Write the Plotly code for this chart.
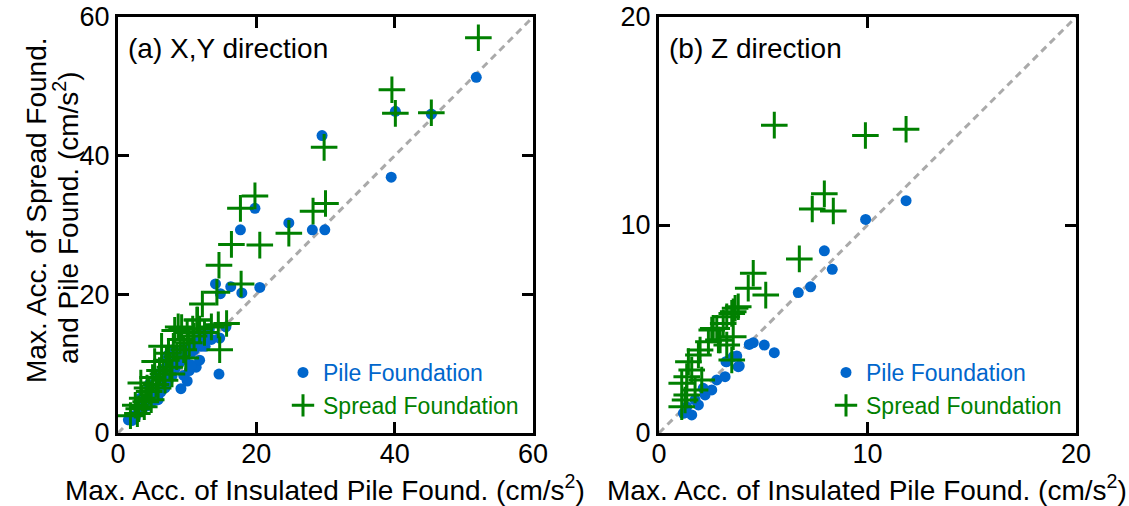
import plotly.graph_objects as go

# ---------------- data: panel (a) X,Y direction ----------------
pile_a_x = [51.8, 40.1, 45.3, 29.5, 39.5, 24.7, 28.1, 29.9, 19.8, 17.7, 14.1, 14.8, 16.3, 17.9,
            20.5, 15.6, 14.6, 14.7, 2.0, 2.3, 3.0, 3.5, 4.0, 4.2, 4.8, 5.0, 5.3, 5.6, 6.0, 6.2,
            6.5, 6.8, 7.0, 7.2, 7.5, 7.8, 8.0, 8.2, 8.5, 8.8, 9.0, 9.2, 9.5, 9.8, 10.0, 10.2,
            10.5, 10.8, 11.0, 11.3, 11.5, 12.0, 12.3, 12.5, 13.0, 13.2, 13.5, 4.5, 5.5, 6.5,
            7.0, 8.0, 3.2, 2.5, 5.8, 9.5, 10.3, 9.1, 10.6, 11.8, 12.6, 7.3, 1.5]
pile_a_y = [51.3, 46.4, 46.0, 42.9, 36.9, 30.3, 29.3, 29.3, 32.4, 29.3, 21.5, 20.1, 21.1, 20.2,
            21.0, 15.3, 8.5, 13.7, 1.8, 2.5, 3.0, 3.8, 4.5, 3.9, 5.2, 4.6, 6.0, 5.4, 6.8, 5.9,
            7.5, 6.5, 8.0, 7.3, 9.0, 8.2, 10.0, 9.2, 11.0, 10.0, 11.5, 10.5, 12.2, 11.0, 7.5, 12.5,
            11.5, 13.0, 12.0, 9.5, 13.5, 12.5, 14.5, 13.2, 14.0, 15.0, 13.5, 7.0, 8.5, 9.2,
            10.5, 12.0, 5.0, 2.2, 4.8, 8.3, 9.0, 6.4, 9.8, 10.5, 12.5, 11.3, 1.9]

spread_a_x = [52.1, 39.6, 40.1, 45.3, 29.8, 30.0, 28.2, 24.7, 19.8, 17.7, 16.4, 20.5, 14.6, 14.3,
              17.8, 12.2, 11.5, 15.7, 14.5, 8.7, 14.7, 13.5, 1.8, 2.5, 3.0, 3.3, 3.5, 4.0, 4.2,
              4.5, 5.0, 5.3, 5.5, 6.0, 6.3, 6.5, 7.0, 7.3, 7.5, 8.0, 8.2, 8.5, 9.0, 9.2, 9.5,
              10.0, 10.3, 10.8, 11.0, 11.4, 11.8, 12.5, 5.8, 7.8, 4.8, 2.8, 6.8, 9.8, 3.8]
spread_a_y = [57.0, 49.5, 46.1, 46.2, 41.2, 33.1, 32.0, 28.8, 34.2, 32.4, 27.2, 27.1, 24.2, 20.3,
              21.5, 18.6, 16.3, 15.8, 15.6, 15.3, 12.0, 15.3, 2.5, 4.0, 3.5, 7.2, 5.0, 4.5, 6.5,
              6.0, 8.0, 10.3, 7.0, 9.0, 12.5, 8.5, 10.5, 11.5, 9.5, 12.5, 14.8, 11.0, 13.5, 15.2, 12.0,
              14.5, 13.0, 15.0, 14.0, 16.3, 15.0, 14.5, 6.5, 8.5, 4.8, 2.8, 7.6, 10.8, 3.8]

# ---------------- data: panel (b) Z direction ----------------
pile_b_x = [11.85, 9.91, 7.93, 8.31, 7.27, 6.68, 4.33, 4.52, 5.05, 5.53, 3.73, 3.21, 3.85,
            1.17, 1.57, 1.89, 2.21, 2.53, 2.77, 3.17, 3.25, 3.56, 3.80, 2.12, 1.73, 1.33]
pile_b_y = [11.17, 10.27, 8.76, 7.87, 7.03, 6.75, 4.26, 4.34, 4.23, 3.86, 3.70, 3.43, 3.22,
            0.95, 0.87, 1.35, 1.83, 2.07, 2.55, 2.71, 3.43, 3.67, 3.19, 2.15, 1.59, 1.26]

spread_b_x = [5.53, 9.90, 11.85, 7.93, 7.35, 8.36, 6.73, 4.52, 4.28, 5.12, 3.80, 3.56, 3.25,
              2.77, 3.56, 2.93, 2.53, 1.09, 1.25, 1.09, 1.33, 1.41, 1.89, 1.57, 2.05, 1.97,
              2.37, 2.60, 3.08, 3.49, 3.65, 3.25, 2.85, 3.49, 1.73, 1.33]
spread_b_y = [14.8, 14.3, 14.6, 11.5, 10.77, 10.67, 8.37, 7.68, 6.96, 6.63, 6.07, 5.83, 5.59,
              5.03, 4.63, 4.47, 4.95, 1.26, 1.59, 2.39, 2.71, 3.43, 3.75, 3.03, 2.55, 3.99,
              4.39, 5.03, 5.27, 5.75, 6.00, 4.23, 4.47, 3.51, 2.07, 1.83]

diag_a = [0, 60]
diag_b = [0, 20]
ticks_a = [0, 20, 40, 60]
ticks_b = [0, 10, 20]

BLUE = "#0066cc"
GREEN = "#008000"
GRAY = "#aaaaaa"
FONT = "Liberation Sans, Arial, sans-serif"

fig = go.Figure()

# diagonal reference lines
fig.add_trace(go.Scatter(x=diag_a, y=diag_a, mode="lines", showlegend=False,
                         line=dict(color=GRAY, width=3, dash="7px,5px"),
                         xaxis="x", yaxis="y", hoverinfo="skip"))
fig.add_trace(go.Scatter(x=diag_b, y=diag_b, mode="lines", showlegend=False,
                         line=dict(color=GRAY, width=3, dash="7px,5px"),
                         xaxis="x2", yaxis="y2", hoverinfo="skip"))

pile_marker = dict(symbol="circle", size=11, color=BLUE, line=dict(width=0))
spread_marker = dict(symbol="cross-thin-open", size=19, color=GREEN,
                     line=dict(color=GREEN, width=3))

fig.add_trace(go.Scatter(x=pile_a_x, y=pile_a_y, mode="markers", marker=pile_marker,
                         name=f"<span style='color:{BLUE}'>Pile Foundation</span>",
                         xaxis="x", yaxis="y", legend="legend"))
fig.add_trace(go.Scatter(x=spread_a_x, y=spread_a_y, mode="markers", marker=spread_marker,
                         name=f"<span style='color:{GREEN}'>Spread Foundation</span>",
                         xaxis="x", yaxis="y", legend="legend"))
fig.add_trace(go.Scatter(x=pile_b_x, y=pile_b_y, mode="markers", marker=pile_marker,
                         name=f"<span style='color:{BLUE}'>Pile Foundation</span>",
                         xaxis="x2", yaxis="y2", legend="legend2"))
fig.add_trace(go.Scatter(x=spread_b_x, y=spread_b_y, mode="markers", marker=spread_marker,
                         name=f"<span style='color:{GREEN}'>Spread Foundation</span>",
                         xaxis="x2", yaxis="y2", legend="legend2"))

W, H = 1129, 506
def px(v):
    return v / W
def py(v):
    return 1 - v / H

TFS = 28  # main text size

axis_common = dict(showline=True, linecolor="black", linewidth=3, mirror="ticks",
                   ticks="inside", ticklen=11, tickwidth=3, tickcolor="black",
                   showgrid=False, zeroline=False, automargin=False,
                   tickfont=dict(family=FONT, size=27, color="black"))

def ann(text, x, y, xanchor="center", angle=0):
    return dict(text=text, x=px(x), y=py(y), xref="paper", yref="paper",
                xanchor=xanchor, yanchor="middle", showarrow=False, textangle=angle,
                font=dict(family=FONT, size=TFS, color="black"))

fig.update_layout(
    width=W, height=H,
    margin=dict(l=0, r=0, t=0, b=0, autoexpand=False),
    paper_bgcolor="white", plot_bgcolor="white",
    font=dict(family=FONT, color="black"),
    xaxis=dict(domain=[px(118), px(533)], range=[0, 60], tickvals=ticks_a,
               anchor="y", ticklabelstandoff=-5, **axis_common),
    yaxis=dict(domain=[py(433), py(17)], range=[0, 60], tickvals=ticks_a,
               anchor="x", **axis_common),
    xaxis2=dict(domain=[px(659), px(1076)], range=[0, 20], tickvals=ticks_b,
                anchor="y2", ticklabelstandoff=-5, **axis_common),
    yaxis2=dict(domain=[py(433), py(17)], range=[0, 20], tickvals=ticks_b,
                anchor="x2", **axis_common),
    legend=dict(x=px(283), y=py(351), xanchor="left", yanchor="top",
                bgcolor="rgba(0,0,0,0)", font=dict(family=FONT, size=23),
                tracegroupgap=0, itemwidth=30),
    legend2=dict(x=px(826), y=py(351), xanchor="left", yanchor="top",
                 bgcolor="rgba(0,0,0,0)", font=dict(family=FONT, size=23),
                 tracegroupgap=0, itemwidth=30),
    annotations=[
        ann("(a) X,Y direction", 126, 48, xanchor="left"),
        ann("(b) Z direction", 667, 48, xanchor="left"),
        ann("Max. Acc. of Insulated Pile Found. (cm/s<sup>2</sup>)", 325, 488),
        ann("Max. Acc. of Spread Found.", 36, 210, angle=-90),
        ann("and Pile Found. (cm/s<sup>2</sup>)", 66, 218, angle=-90),
        ann("Max. Acc. of Insulated Pile Found. (cm/s<sup>2</sup>)", 867, 488),
    ],
)

fig.write_html("out.html")
